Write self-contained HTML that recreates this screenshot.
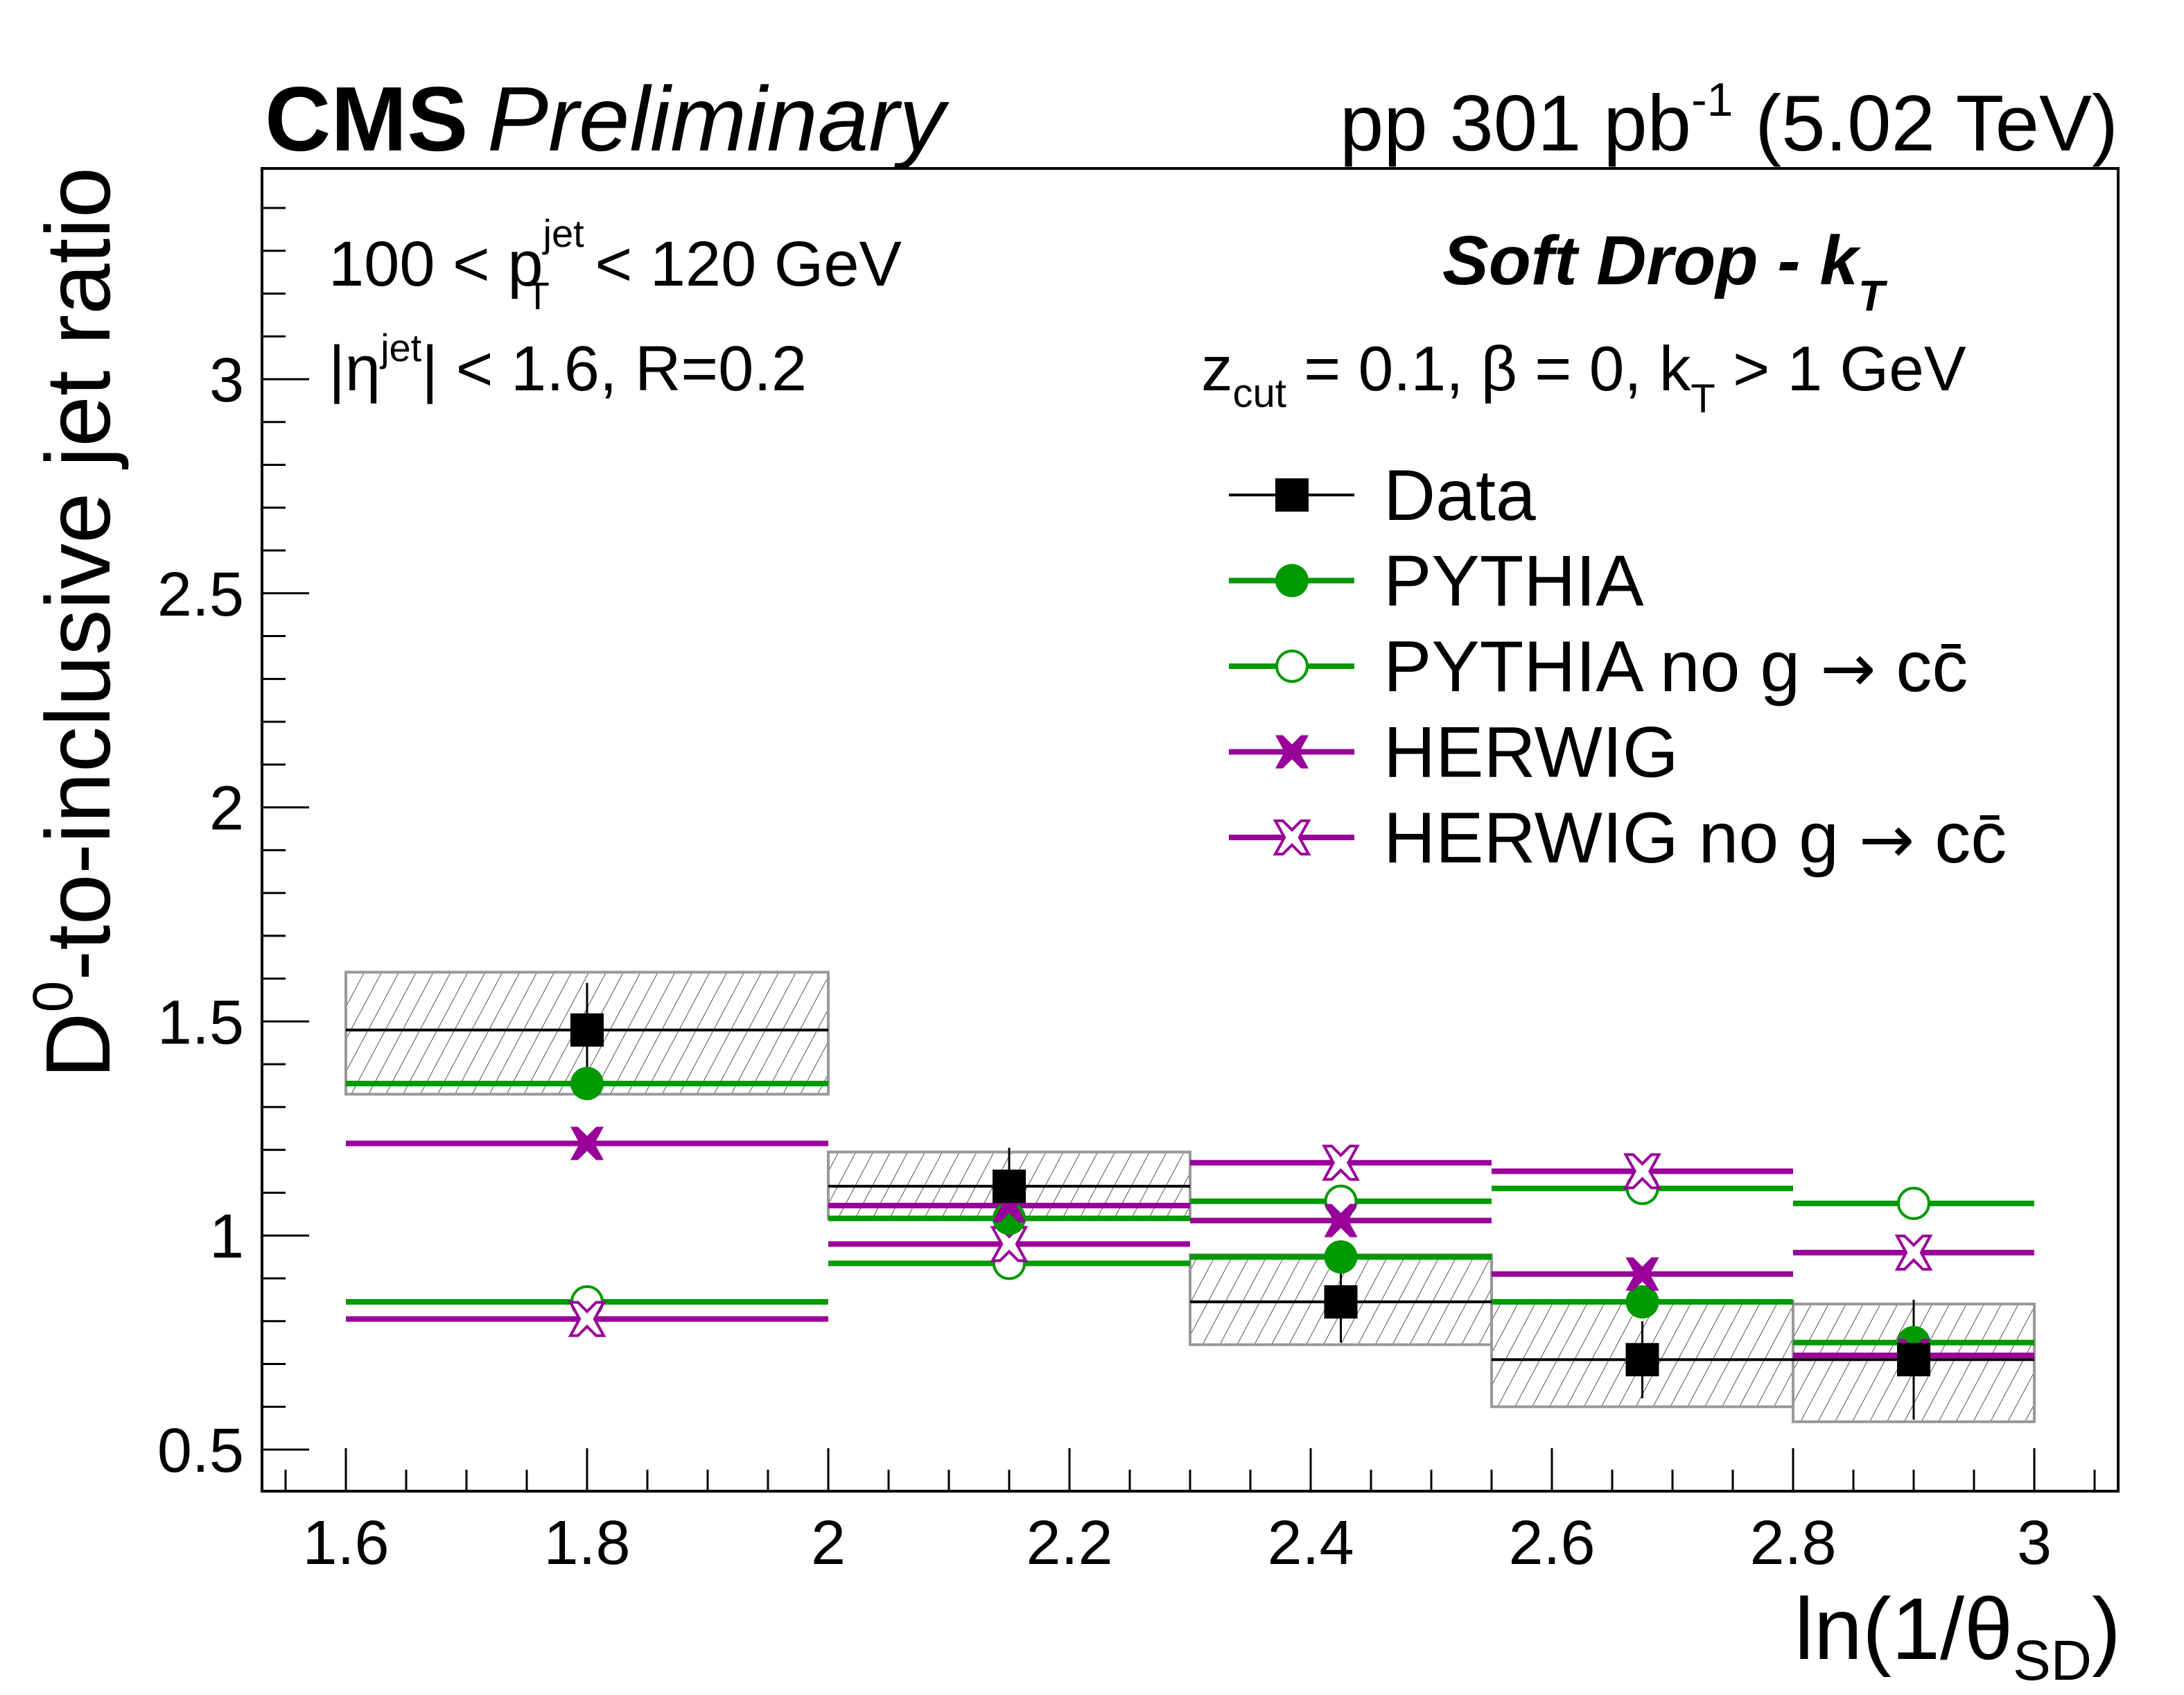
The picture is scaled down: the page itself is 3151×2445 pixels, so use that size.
<!DOCTYPE html>
<html><head><meta charset="utf-8"><style>
html,body{margin:0;padding:0;background:#fff}
svg{display:block;font-family:"Liberation Sans",sans-serif}
</style></head><body>
<svg id="c" width="3151" height="2445" viewBox="0 0 3151 2445" xmlns="http://www.w3.org/2000/svg">
<defs>
<pattern id="hatch" patternUnits="userSpaceOnUse" width="22" height="22" patternTransform="rotate(28)">
<line x1="0" y1="0" x2="0" y2="22" stroke="#555" stroke-width="2"/>
</pattern>
</defs>
<g id="plot"></g>
<rect x="378" y="243" width="2678" height="1908" fill="none" stroke="#000" stroke-width="4"/>
<text x="382" y="217" font-size="132" font-weight="bold">CMS</text>
<text x="703" y="217" font-size="132" font-style="italic">Preliminary</text>
<text x="3056" y="217" font-size="114" text-anchor="end">pp 301 pb<tspan dy="-50" font-size="68">-1</tspan><tspan dy="50"> (5.02 TeV)</tspan></text>
<text x="474" y="412" font-size="92">100 &lt; p<tspan dy="-56" font-size="56">jet</tspan><tspan dx="-84" dy="90" font-size="56">T</tspan><tspan dx="40" dy="-34"> &lt; 120 GeV</tspan></text>
<text x="474" y="563" font-size="92">|η<tspan dy="-42" font-size="56">jet</tspan><tspan dy="42">| &lt; 1.6, R=0.2</tspan></text>
<text x="2081" y="410" font-size="100" font-weight="bold" font-style="italic">Soft Drop - k<tspan dy="38" font-size="62">T</tspan></text>
<text x="1733" y="563" font-size="91">z<tspan dy="24" font-size="58">cut</tspan><tspan dy="-24"> = 0.1, β = 0, k</tspan><tspan dy="32" font-size="58">T</tspan><tspan dy="-32"> &gt; 1 GeV</tspan></text>
<text transform="translate(158,241) rotate(-90)" font-size="132" text-anchor="end">D<tspan dy="-54" font-size="82">0</tspan><tspan dy="54">-to-inclusive jet ratio</tspan></text>
<text x="3060" y="2393" font-size="126" text-anchor="end">ln(1/θ<tspan dy="30" font-size="82">SD</tspan><tspan dy="-30">)</tspan></text>
<g id="legend"></g>
</svg>
<script>
const binLo = [1.6, 2.0, 2.3, 2.55, 2.8];
const binHi = [2.0, 2.3, 2.55, 2.8, 3.0];
const binCenter = [1.8, 2.15, 2.425, 2.675, 2.9];
const dataVals = [1.48, 1.115, 0.845, 0.71, 0.71];
const dataStatLo = [1.37, 1.03, 0.75, 0.62, 0.57];
const dataStatHi = [1.59, 1.205, 0.94, 0.80, 0.85];
const sysLo = [1.33, 1.04, 0.745, 0.60, 0.565];
const sysHi = [1.615, 1.195, 0.955, 0.845, 0.84];
const pythia = [1.355, 1.04, 0.95, 0.845, 0.75];
const pythiaNoG = [0.845, 0.935, 1.08, 1.11, 1.075];
const herwig = [1.215, 1.07, 1.035, 0.91, 0.72];
const herwigNoG = [0.805, 0.98, 1.17, 1.15, 0.96];
const yTickLabels = ["0.5", "1", "1.5", "2", "2.5", "3"];
const xTickLabels = ["1.6", "1.8", "2", "2.2", "2.4", "2.6", "2.8", "3"];

const NS = "http://www.w3.org/2000/svg";
const X0 = 378, X1 = 3056, Y0 = 243, Y1 = 2151;
function xs(v){ return 499 + (v - 1.6) * 1740; }
function ys(v){ return 2091 - (v - 0.5) * 617.6; }
const plot = document.getElementById('plot');
function el(tag, attrs, parent){
  const e = document.createElementNS(NS, tag);
  for (const k in attrs) e.setAttribute(k, attrs[k]);
  (parent || plot).appendChild(e);
  return e;
}
const GREEN = "#009900", PURPLE = "#990099";

for (let i = 0; i <= 31; i++) {
  const v = 0.4 + i * 0.1;
  const major = Math.abs((v * 2) - Math.round(v * 2)) < 1e-6;
  const y = ys(v);
  if (y < Y0 + 5 || y > Y1 - 5) continue;
  const t = el('line', {x1: X0, x2: X0 + (major ? 68 : 34), y1: y, y2: y, stroke: '#000', 'stroke-width': 3});
  
  
}
yTickLabels.forEach(s => {
  const t = el('text', {x: 352, y: ys(parseFloat(s)) + 32, 'font-size': 90, 'text-anchor': 'end'});
  
  
  t.textContent = s;
});
for (let i = -1; i <= 29; i++) {
  const v = 1.6 + i * 0.05;
  const x = xs(v);
  if (x < X0 + 5 || x > X1 - 5) continue;
  const major = i % 4 === 0;
  const t = el('line', {x1: x, x2: x, y1: Y1, y2: Y1 - (major ? 62 : 31), stroke: '#000', 'stroke-width': 3});
  
  
}
xTickLabels.forEach(s => {
  const t = el('text', {x: xs(parseFloat(s)), y: 2256, 'font-size': 90, 'text-anchor': 'middle'});
  
  
  t.textContent = s;
});

for (let i = 0; i < binLo.length; i++) {
  const r = el('rect', {x: xs(binLo[i]), y: ys(sysHi[i]), width: xs(binHi[i]) - xs(binLo[i]), height: ys(sysLo[i]) - ys(sysHi[i]), fill: 'url(#hatch)', stroke: '#999', 'stroke-width': 4});
  
  
}

function marker(type, cx, cy, color, parent){
  const s = 24;
  let m;
  if (type === 'square') {
    m = el('rect', {x: cx - s, y: cy - s, width: 2*s, height: 2*s, fill: '#000'}, parent);
  } else if (type === 'circle' || type === 'ocircle') {
    m = el('circle', {cx: cx, cy: cy, r: s - (type === 'ocircle' ? 2 : 0), fill: type === 'circle' ? color : '#fff', stroke: color, 'stroke-width': type === 'ocircle' ? 4 : 0}, parent);
  } else {
    const a = s, b = s * 0.45;
    const pts = [[-a,-a],[-a+b,-a],[0,-b],[a-b,-a],[a,-a],[b,0],[a,a],[a-b,a],[0,b],[-a+b,a],[-a,a],[-b,0]]
      .map(p => (cx + p[0]) + ',' + (cy + p[1])).join(' ');
    m = el('polygon', {points: pts, fill: type === 'x' ? color : '#fff', stroke: color, 'stroke-width': type === 'x' ? 0 : 4}, parent);
  }
  return m;
}

const models = [
  {vals: pythiaNoG, color: GREEN, mk: 'ocircle', name: 'pythia-no-gcc'},
  {vals: herwigNoG, color: PURPLE, mk: 'ox', name: 'herwig-no-gcc'},
  {vals: pythia, color: GREEN, mk: 'circle', name: 'pythia'},
  {vals: herwig, color: PURPLE, mk: 'x', name: 'herwig'}
];
models.forEach(m => {
  for (let i = 0; i < binLo.length; i++) {
    const l = el('line', {x1: xs(binLo[i]), x2: xs(binHi[i]), y1: ys(m.vals[i]), y2: ys(m.vals[i]), stroke: m.color, 'stroke-width': 8});
    
    
  }
});
for (let i = 0; i < binLo.length; i++) {
  const l = el('line', {x1: xs(binLo[i]), x2: xs(binHi[i]), y1: ys(dataVals[i]), y2: ys(dataVals[i]), stroke: '#000', 'stroke-width': 4});
  
  
  const e = el('line', {x1: xs(binCenter[i]), x2: xs(binCenter[i]), y1: ys(dataStatHi[i]), y2: ys(dataStatLo[i]), stroke: '#000', 'stroke-width': 3});
  
  
}
models.forEach(m => {
  for (let i = 0; i < binLo.length; i++) {
    const mk = marker(m.mk, xs(binCenter[i]), ys(m.vals[i]), m.color);
    
    
  }
});
for (let i = 0; i < binLo.length; i++) {
  const mk = marker('square', xs(binCenter[i]), ys(dataVals[i]), '#000');
  
  
}

const leg = document.getElementById('legend');
const legItems = [
  {label: 'Data', color: '#000', mk: 'square', w: 4, arrow: false},
  {label: 'PYTHIA', color: GREEN, mk: 'circle', w: 8, arrow: false},
  {label: 'PYTHIA no g ', color: GREEN, mk: 'ocircle', w: 8, arrow: true},
  {label: 'HERWIG', color: PURPLE, mk: 'x', w: 8, arrow: false},
  {label: 'HERWIG no g ', color: PURPLE, mk: 'ox', w: 8, arrow: true}
];
legItems.forEach((it, k) => {
  const y = 714 + k * 123.5;
  const g = el('g', {}, leg);
  
  
  el('line', {x1: 1773, x2: 1954, y1: y, y2: y, stroke: it.color, 'stroke-width': it.w}, g);
  marker(it.mk, 1864, y, it.color, g);
  const t = el('text', {x: 1996, y: y + 36, 'font-size': 104}, g);
  t.textContent = it.label;
  if (it.arrow) {
    const a = el('tspan', {'font-family': '"DejaVu Sans", sans-serif', 'font-size': 96}, t);
    a.textContent = '→';
    const c = el('tspan', {}, t);
    c.textContent = ' cc̄';
  }
});
</script>
</body></html>
